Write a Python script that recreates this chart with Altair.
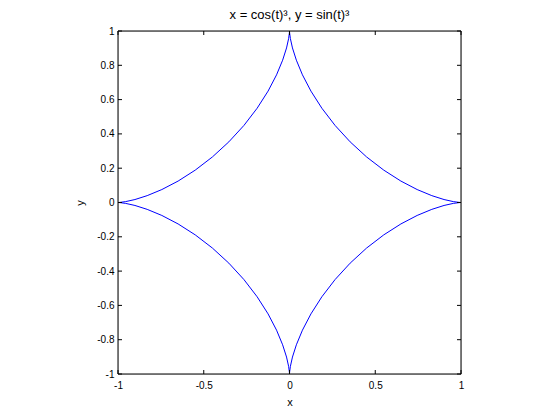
import altair as alt
import pandas as pd

x_vals = [1, 0.9886, 0.9551, 0.9012, 0.8298, 0.7444, 0.6495, 0.5497, 0.4495, 0.3536, 0.2656, 0.1887, 0.125, 0.0755, 0.0400, 0.0173, 0.0052, 0.0007, 0,
          -0.0007, -0.0052, -0.0173, -0.0400, -0.0755, -0.125, -0.1887, -0.2656, -0.3536, -0.4495, -0.5497, -0.6495, -0.7444, -0.8298, -0.9012, -0.9551, -0.9886, -1,
          -0.9886, -0.9551, -0.9012, -0.8298, -0.7444, -0.6495, -0.5497, -0.4495, -0.3536, -0.2656, -0.1887, -0.125, -0.0755, -0.0400, -0.0173, -0.0052, -0.0007, 0,
          0.0007, 0.0052, 0.0173, 0.0400, 0.0755, 0.125, 0.1887, 0.2656, 0.3536, 0.4495, 0.5497, 0.6495, 0.7444, 0.8298, 0.9012, 0.9551, 0.9886, 1]
y_vals = [0, 0.0007, 0.0052, 0.0173, 0.0400, 0.0755, 0.125, 0.1887, 0.2656, 0.3536, 0.4495, 0.5497, 0.6495, 0.7444, 0.8298, 0.9012, 0.9551, 0.9886, 1,
          0.9886, 0.9551, 0.9012, 0.8298, 0.7444, 0.6495, 0.5497, 0.4495, 0.3536, 0.2656, 0.1887, 0.125, 0.0755, 0.0400, 0.0173, 0.0052, 0.0007, 0,
          -0.0007, -0.0052, -0.0173, -0.0400, -0.0755, -0.125, -0.1887, -0.2656, -0.3536, -0.4495, -0.5497, -0.6495, -0.7444, -0.8298, -0.9012, -0.9551, -0.9886, -1,
          -0.9886, -0.9551, -0.9012, -0.8298, -0.7444, -0.6495, -0.5497, -0.4495, -0.3536, -0.2656, -0.1887, -0.125, -0.0755, -0.0400, -0.0173, -0.0052, -0.0007, 0]

x_ticks = [-1, -0.5, 0, 0.5, 1]
y_ticks = [-1, -0.8, -0.6, -0.4, -0.2, 0, 0.2, 0.4, 0.6, 0.8, 1]

title_text = "x = cos(t)\u00b3, y = sin(t)\u00b3"

W = 343
H = 343
FONT = "Liberation Sans"

curve = pd.DataFrame({"i": list(range(len(x_vals))), "x": x_vals, "y": y_vals})
xt = pd.DataFrame({"v": x_ticks})
yt = pd.DataFrame({"v": y_ticks})

xscale = alt.Scale(domain=[-1, 1], nice=False, zero=False)
yscale = alt.Scale(domain=[-1, 1], nice=False, zero=False)
lbl = "replace(format(datum.value, '.1~f'), '\u2212', '-')"

xaxis = alt.Axis(values=x_ticks, ticks=False, domain=False, grid=False,
                 labelPadding=6, labelExpr=lbl, labelOverlap=False, labelFlush=False,
                 titleFontWeight="normal",
                 titleX=W / 2, titleY=28, titleBaseline="middle", titleAlign="center")
yaxis = alt.Axis(values=y_ticks, ticks=False, domain=False, grid=False,
                 labelPadding=4, labelExpr=lbl, labelOverlap=False, labelFlush=False,
                 labelSeparation=0,
                 titleFontWeight="normal",
                 titleX=-38, titleY=H / 2, titleBaseline="middle", titleAlign="center",
                 titleAngle=270)

line = alt.Chart(curve).mark_line(color="#0000ff", strokeWidth=1, clip=True).encode(
    x=alt.X("x:Q", scale=xscale, title="x", axis=xaxis),
    y=alt.Y("y:Q", scale=yscale, title="y", axis=yaxis),
    order=alt.Order("i:Q"),
)

tick_len = 4
bx = alt.Chart(xt).mark_rule(color="black", strokeWidth=1).encode(
    x=alt.X("v:Q", scale=xscale, title="x", axis=xaxis), y=alt.value(H), y2=alt.value(H - tick_len))
tx = alt.Chart(xt).mark_rule(color="black", strokeWidth=1).encode(
    x=alt.X("v:Q", scale=xscale, title="x", axis=xaxis), y=alt.value(0), y2=alt.value(tick_len))
ly = alt.Chart(yt).mark_rule(color="black", strokeWidth=1).encode(
    y=alt.Y("v:Q", scale=yscale, title="y", axis=yaxis), x=alt.value(0), x2=alt.value(tick_len))
ry = alt.Chart(yt).mark_rule(color="black", strokeWidth=1).encode(
    y=alt.Y("v:Q", scale=yscale, title="y", axis=yaxis), x=alt.value(W), x2=alt.value(W - tick_len))

frame_df = pd.DataFrame({"side": ["top"]})
f_top = alt.Chart(frame_df).mark_rule(color="black", strokeWidth=1).encode(
    x=alt.value(0), x2=alt.value(W), y=alt.value(0))
f_bot = alt.Chart(frame_df).mark_rule(color="black", strokeWidth=1).encode(
    x=alt.value(0), x2=alt.value(W), y=alt.value(H))
f_left = alt.Chart(frame_df).mark_rule(color="black", strokeWidth=1).encode(
    y=alt.value(0), y2=alt.value(H), x=alt.value(0))
f_right = alt.Chart(frame_df).mark_rule(color="black", strokeWidth=1).encode(
    y=alt.value(0), y2=alt.value(H), x=alt.value(W))

chart = alt.layer(line, bx, tx, ly, ry, f_top, f_bot, f_left, f_right).properties(
    width=W, height=H,
    title=alt.TitleParams(title_text, font=FONT, fontSize=13, fontWeight="normal",
                          color="black", anchor="middle", offset=4),
    autosize=alt.AutoSizeParams(type="none"),
    padding={"left": 110, "top": 23, "right": 88, "bottom": 36},
).configure_view(
    stroke=None
).configure_axis(
    labelFont=FONT, labelFontSize=11, labelColor="black", labelOverlap=False,
    titleFont=FONT, titleFontSize=11, titleColor="black", titleFontWeight="normal",
).configure(background="white")

chart.save("out.html", embed_options={"renderer": "svg", "actions": False})
